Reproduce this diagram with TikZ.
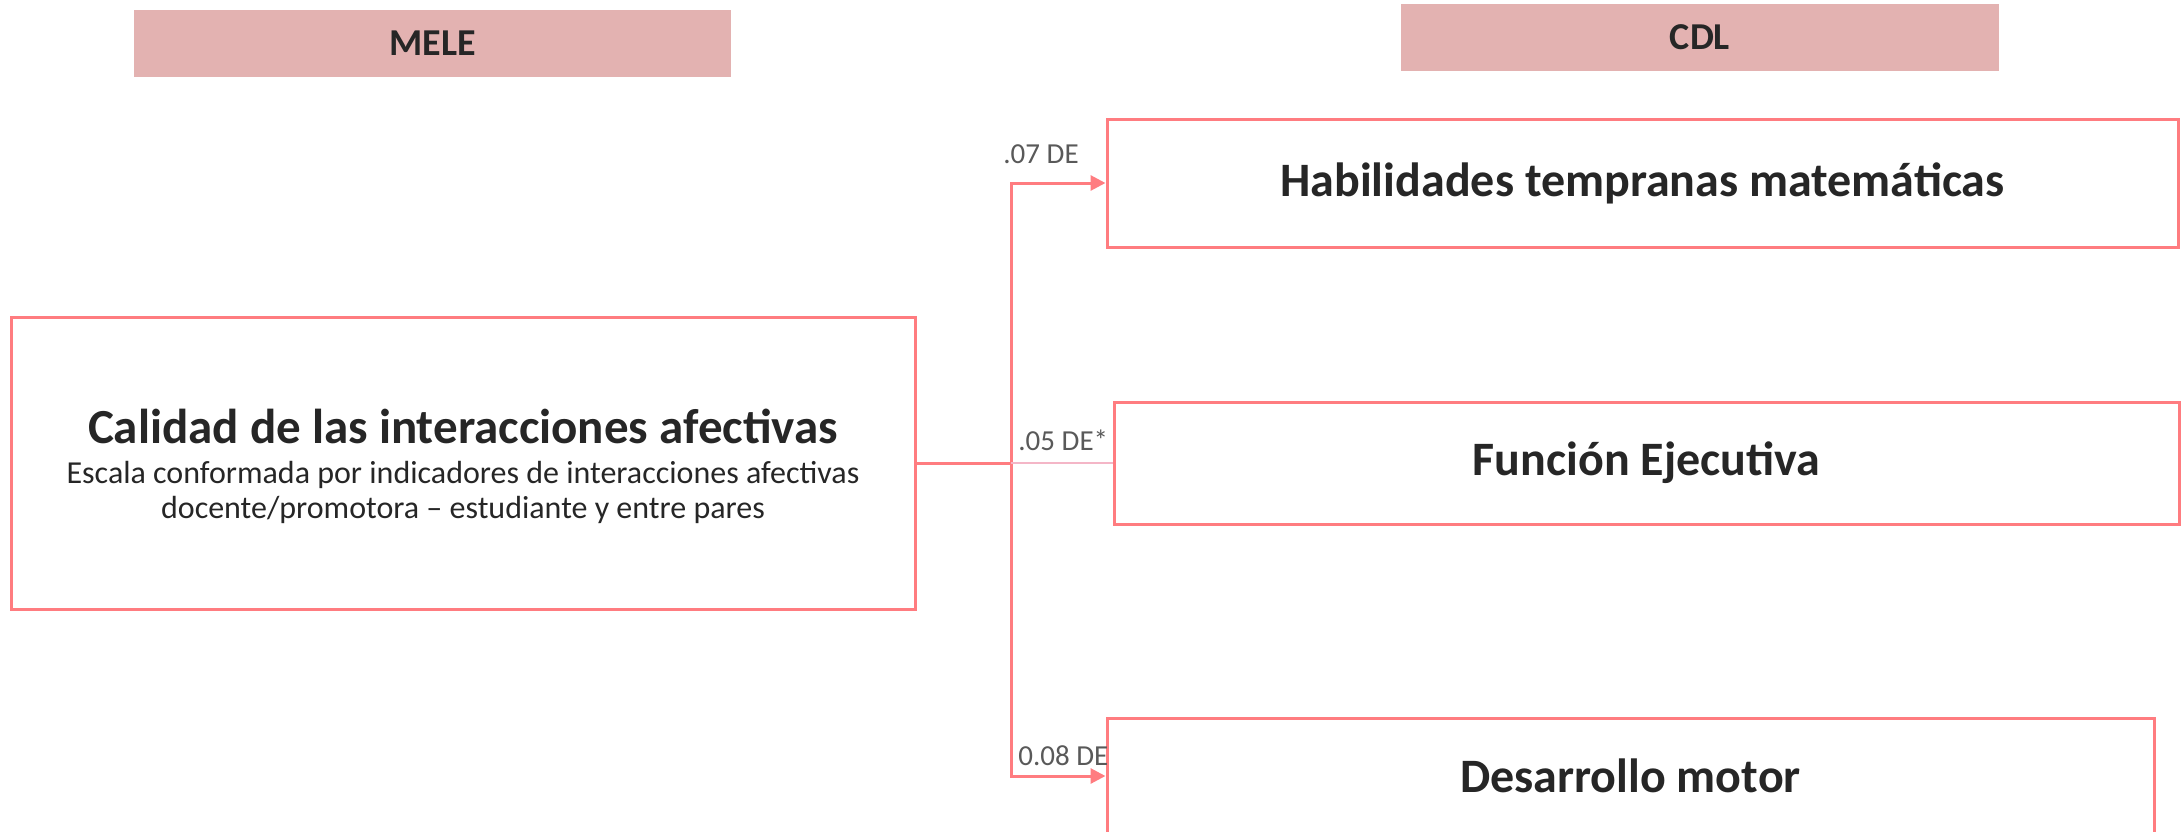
\documentclass[tikz,border=0pt]{standalone}
\usepackage{fontspec}
\setmainfont{Carlito}
\usetikzlibrary{arrows.meta}
\definecolor{coral}{RGB}{255,124,128}
\definecolor{hdr}{RGB}{227,178,177}
\definecolor{txt}{RGB}{38,38,38}
\definecolor{lbl}{RGB}{89,89,89}
\definecolor{lightline}{RGB}{244,182,199}
\begin{document}
\begin{tikzpicture}[x=0.5pt,y=-0.5pt,
 box/.style={draw=coral, line width=1.5pt, inner sep=0pt, text=txt, align=center},
 header/.style={fill=hdr, inner sep=0pt, font=\fontsize{19}{22}\selectfont\bfseries, text=txt},
 conn/.style={draw=coral, line width=1.5pt},
 lab/.style={anchor=base west, font=\fontsize{14.5}{17}\selectfont, text=lbl, inner sep=0pt},
 tip/.style={-{Triangle[length=7.5pt,width=7.5pt]}},
 ttl/.style={font=\fontsize{24}{28}\selectfont\bfseries}
]
\useasboundingbox (0,0) rectangle (2184,831);
\node[header, minimum width=298.5pt, minimum height=33.5pt] (mele) at (432.5,43.5) {MELE};
\node[header, minimum width=299pt, minimum height=33.5pt] (cdl) at (1700,37.5) {CDL};
\node[box, font=\fontsize{16}{17.5}\selectfont, minimum width=452pt, minimum height=146pt] (main) at (463,463)
 {\raisebox{0pt}[\dimexpr\height+3.5pt\relax]{\fontsize{24.5}{24}\selectfont\bfseries Calidad de las interacciones afectivas}\\[2.5pt]
  Escala conformada por indicadores de interacciones afectivas\\docente/promotora – estudiante y entre pares};
\node[box, ttl, minimum width=535.5pt, minimum height=64pt] (b1) at (1642.5,183) {Habilidades tempranas matemáticas};
\node[box, ttl, minimum width=532.5pt, minimum height=61pt] (b2) at (1646.5,463) {Función Ejecutiva};
\node[box, ttl, minimum width=523.5pt, minimum height=58pt] (b3) at (1630.5,776) {Desarrollo motor};
\coordinate (j) at (1011,463);
\draw[conn] (main.east) -- (j);
\draw[conn, tip] (j) |- (b1.west);
\draw[conn, tip] (j) |- (b3.west);
\draw[draw=lightline, line width=1pt] (j) -- (b2.west);
\node[lab] (l1) at (1003,163) {.07 DE};
\node[lab] (l2) at (1018,450) {.05 DE*};
\node[lab] (l3) at (1018,765) {0.08 DE};
\end{tikzpicture}
\end{document}
